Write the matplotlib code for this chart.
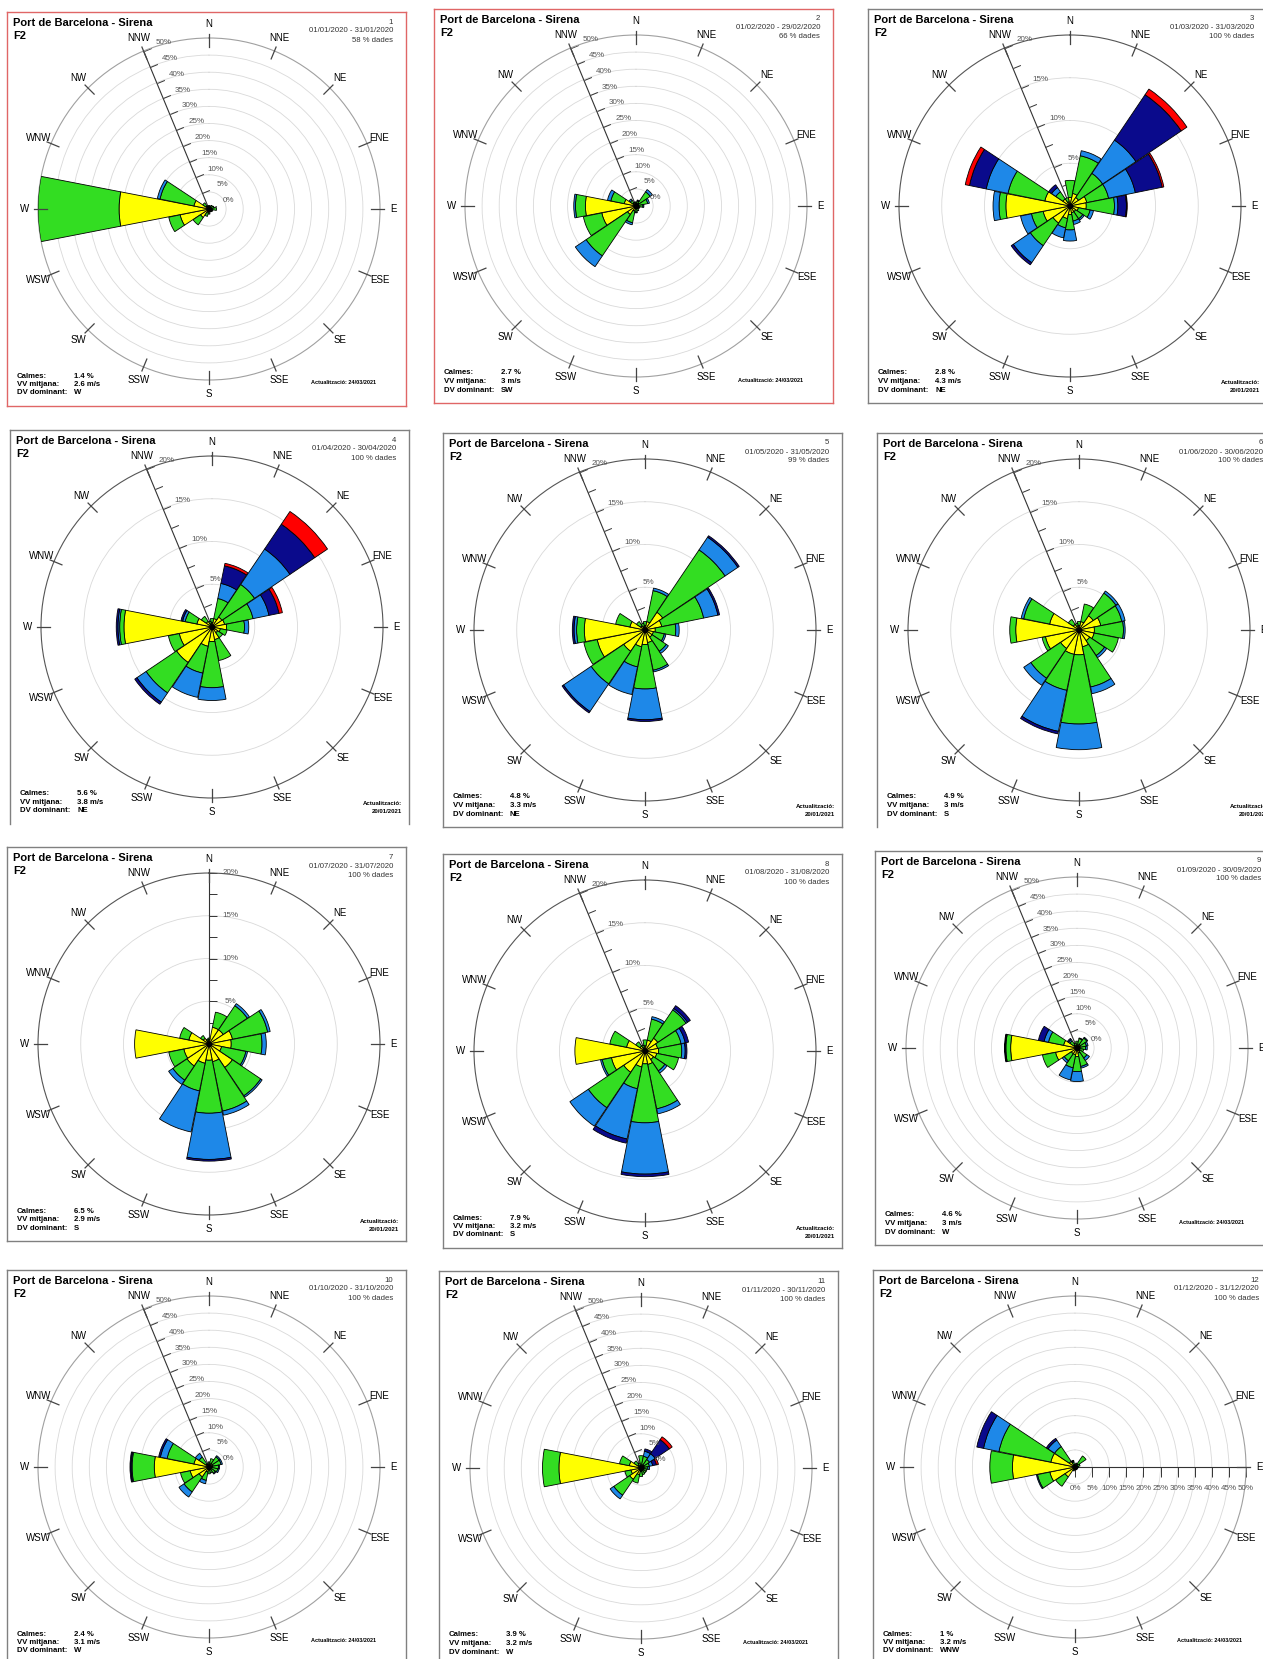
import numpy as np
import matplotlib.pyplot as plt
from matplotlib.markers import MarkerStyle
from matplotlib.path import Path
from matplotlib.transforms import Affine2D

plt.rcParams['font.family'] = ['Liberation Sans', 'DejaVu Sans']

W_PX, H_PX = 1263, 1659
PW, PH = 399, 394          # panel box in pixels
CX, CY, R = 202, 197, 171  # rose centre / radius inside a panel

directions = ["N", "NNE", "NE", "ENE", "E", "ESE", "SE", "SSE",
              "S", "SSW", "SW", "WSW", "W", "WNW", "NW", "NNW"]
class_colors = ["#ffff00", "#33dd22", "#1e88e8", "#0a0a8c", "#ff0000"]

# frequency (%) of each speed class per direction (N .. NNW), innermost class first
jan = [
    [0.5, 0.5, 0.6, 0.6, 0.8, 0.5, 0.4, 0.4, 0.7, 1.0, 3.0, 8.6, 26.3, 4.5, 1.0, 0.5],
    [0.5, 0.5, 0.7, 0.9, 1.4, 0.7, 0.6, 0.5, 0.8, 1.2, 2.6, 3.4, 23.7, 10.1, 1.2, 0.5],
    [0, 0, 0, 0, 0, 0, 0, 0, 0, 0, 0, 0, 0, 0.8, 0, 0],
]
feb = [
    [0.5, 0.6, 1.0, 0.8, 0.5, 0.4, 0.4, 0.5, 0.6, 1.5, 3.0, 10.2, 14.8, 3.5, 1.0, 0.5],
    [0.7, 0.9, 4.0, 2.7, 1.5, 0.8, 0.6, 1.0, 1.2, 3.5, 14.6, 5.5, 2.9, 4.0, 1.0, 0.7],
    [0, 0.3, 0.8, 0.5, 0.3, 0, 0, 0, 0.2, 0.6, 3.8, 0, 0.5, 1.0, 0.5, 0],
]
mar = [
    [1.0, 1.5, 1.2, 2.0, 1.9, 1.0, 0.8, 0.8, 1.0, 1.5, 2.4, 3.2, 7.5, 3.0, 1.0, 0.5],
    [2.0, 4.5, 3.4, 2.6, 3.3, 1.4, 1.0, 1.0, 1.8, 1.1, 3.2, 1.4, 0.8, 4.4, 1.0, 0.5],
    [0, 0.6, 4.7, 3.2, 0.4, 0.4, 0.2, 0.4, 1.3, 1.2, 2.4, 1.3, 0.7, 2.6, 0.6, 0],
    [0, 0, 6.4, 3.2, 1.0, 0, 0, 0, 0, 0, 0.3, 0, 0, 2.0, 0.4, 0],
    [0, 0, 0.8, 0.2, 0.1, 0, 0, 0, 0, 0, 0, 0, 0, 0.5, 0, 0],
]
apr = [
    [0.5, 1.0, 1.4, 1.5, 1.7, 1.0, 0.8, 1.5, 1.7, 2.3, 5.0, 3.9, 10.3, 1.8, 0.8, 0.4],
    [0.5, 2.4, 4.6, 3.4, 2.1, 0.8, 0.7, 2.5, 5.4, 3.2, 4.3, 1.3, 0.5, 1.4, 0.7, 0.3],
    [0, 1.8, 5.0, 1.9, 0.5, 0, 0, 0, 1.5, 2.9, 1.3, 0, 0.2, 0.3, 0, 0],
    [0, 2.1, 3.5, 1.2, 0, 0, 0, 0, 0, 0, 0.3, 0, 0.2, 0.2, 0, 0],
    [0, 0.3, 1.8, 0.4, 0, 0, 0, 0, 0, 0, 0, 0, 0, 0, 0, 0],
]
may = [
    [0.5, 1.0, 2.5, 2.0, 1.2, 1.0, 1.0, 1.5, 1.7, 2.0, 3.0, 5.7, 7.1, 1.8, 0.6, 0.4],
    [0.5, 3.7, 8.8, 5.0, 2.4, 1.3, 2.0, 3.3, 5.2, 2.4, 4.6, 1.6, 0.9, 1.7, 0.6, 0.4],
    [0, 0.3, 1.8, 1.7, 0.4, 0.2, 0.3, 0.2, 3.6, 3.3, 3.9, 0, 0.3, 0, 0, 0],
    [0, 0, 0.2, 0.2, 0, 0, 0, 0, 0.2, 0, 0.2, 0, 0.2, 0, 0, 0],
]
jun = [
    [0.5, 1.0, 2.0, 2.6, 1.8, 1.8, 1.5, 2.0, 2.9, 2.9, 2.6, 4.0, 7.4, 3.5, 0.8, 0.5],
    [0.5, 2.1, 3.2, 2.5, 3.4, 2.9, 2.1, 4.8, 8.1, 4.3, 4.2, 0.4, 0.7, 3.1, 0.7, 0.3],
    [0, 0, 0.3, 0.4, 0.2, 0, 0.3, 0.8, 3.0, 4.9, 1.0, 0, 0, 0.3, 0, 0],
    [0, 0, 0, 0, 0, 0, 0, 0, 0, 0.3, 0, 0, 0, 0, 0, 0],
]
jul = [
    [0.5, 2.0, 2.0, 2.8, 2.6, 1.5, 3.3, 2.1, 1.9, 2.3, 3.1, 3.0, 8.7, 2.4, 0.8, 0.4],
    [0.2, 1.8, 3.4, 4.2, 3.6, 2.9, 4.0, 5.9, 6.2, 3.3, 2.0, 1.8, 0, 1.1, 0.4, 0.2],
    [0, 0, 0.3, 0.3, 0.5, 0.2, 0.2, 0.5, 5.4, 4.9, 0.6, 0, 0, 0, 0, 0],
    [0, 0, 0, 0, 0, 0, 0, 0, 0.2, 0, 0, 0, 0, 0, 0, 0],
]
aug = [
    [0.6, 1.3, 1.8, 1.5, 1.6, 1.4, 1.2, 1.6, 1.5, 1.9, 3.0, 4.0, 8.2, 2.2, 0.7, 0.4],
    [0.7, 2.5, 4.0, 2.8, 2.7, 2.6, 1.6, 5.3, 6.9, 2.6, 5.0, 1.1, 0, 2.0, 0.6, 0.3],
    [0, 0.3, 0.2, 0.5, 0.4, 0, 0.3, 0.6, 6.0, 6.0, 2.6, 0.2, 0, 0, 0, 0],
    [0, 0, 0.4, 0.4, 0.2, 0, 0, 0, 0.3, 0.5, 0, 0, 0, 0, 0, 0],
]
sep = [
    [0.8, 1.0, 1.2, 1.0, 0.8, 0.7, 1.0, 1.5, 2.5, 2.0, 2.0, 6.4, 19.4, 4.0, 1.0, 0.6],
    [1.2, 1.8, 2.3, 1.8, 1.7, 1.3, 2.5, 4.0, 4.4, 3.9, 2.5, 3.9, 1.4, 4.5, 1.5, 0.9],
    [0, 0.2, 0.3, 0.5, 0.5, 0, 0.9, 0.5, 2.9, 3.6, 0.7, 0, 0.2, 1.3, 0.5, 0],
    [0, 0, 0, 0, 0, 0, 0, 0, 0, 0, 0, 0, 0.2, 1.7, 0.4, 0],
]
oct_ = [
    [0.6, 1.0, 1.2, 1.2, 1.0, 0.8, 0.7, 0.6, 0.8, 1.5, 3.5, 5.6, 16.0, 4.5, 1.0, 0.5],
    [0.9, 1.5, 2.4, 2.4, 1.8, 1.8, 1.5, 1.2, 1.2, 2.5, 5.3, 2.9, 6.5, 8.0, 2.5, 0.5],
    [0, 0, 0.4, 0.4, 0.3, 0.4, 0.3, 0, 0, 1.0, 1.8, 0, 0.3, 2.0, 1.3, 0],
    [0, 0, 0, 0, 0, 0, 0, 0, 0, 0, 0, 0, 0.3, 0.5, 0, 0],
]
nov = [
    [0.8, 1.0, 1.0, 1.0, 0.8, 0.6, 0.6, 0.6, 1.0, 2.0, 4.0, 3.0, 24.0, 3.5, 1.0, 0.6],
    [2.8, 2.5, 2.0, 1.5, 1.2, 1.2, 1.2, 1.4, 1.5, 2.5, 5.6, 1.8, 4.8, 2.9, 1.5, 0.9],
    [0, 1.5, 2.0, 1.0, 0.5, 0, 0, 0, 0, 0, 1.3, 0, 0, 0, 0, 0],
    [0, 0.7, 5.0, 1.1, 0, 0, 0, 0, 0, 0, 0, 0, 0, 0, 0, 0],
    [0, 0, 1.0, 0.6, 0, 0, 0, 0, 0, 0, 0, 0, 0, 0, 0, 0],
]
dec = [
    [0.4, 0.5, 1.0, 0.5, 0.4, 0.3, 0.3, 0.3, 0.4, 0.5, 3.5, 7.5, 18.3, 7.2, 2.0, 0.6],
    [0.4, 0.7, 2.9, 1.0, 0.6, 0.3, 0.3, 0.3, 0.4, 0.7, 3.3, 3.7, 6.6, 15.5, 5.2, 0.9],
    [0, 0, 0, 0, 0, 0, 0, 0, 0, 0, 0, 0.3, 0, 4.6, 2.3, 0.3],
    [0, 0, 0, 0, 0, 0, 0, 0, 0, 0, 0, 0, 0, 2.0, 0.6, 0.2],
]
months = [jan, feb, mar, apr, may, jun, jul, aug, sep, oct_, nov, dec]

periods = ["01/01/2020 - 31/01/2020", "01/02/2020 - 29/02/2020", "01/03/2020 - 31/03/2020",
           "01/04/2020 - 30/04/2020", "01/05/2020 - 31/05/2020", "01/06/2020 - 30/06/2020",
           "01/07/2020 - 31/07/2020", "01/08/2020 - 31/08/2020", "01/09/2020 - 30/09/2020",
           "01/10/2020 - 31/10/2020", "01/11/2020 - 30/11/2020", "01/12/2020 - 31/12/2020"]
coverage = [58, 66, 100, 100, 99, 100, 100, 100, 100, 100, 100, 100]
calmes = ["1.4 %", "2.7 %", "2.8 %", "5.6 %", "4.8 %", "4.9 %",
          "6.5 %", "7.9 %", "4.6 %", "2.4 %", "3.9 %", "1 %"]
vv_mitjana = ["2.6 m/s", "3 m/s", "4.3 m/s", "3.8 m/s", "3.3 m/s", "3 m/s",
              "2.9 m/s", "3.2 m/s", "3 m/s", "3.1 m/s", "3.2 m/s", "3.2 m/s"]
dv_dominant = ["W", "SW", "NE", "NE", "NE", "S", "S", "S", "W", "W", "W", "WNW"]
updated = ["24/03/2021"] * 2 + ["20/01/2021"] * 6 + ["24/03/2021"] * 4
rmax_pct = [50, 50, 20, 20, 20, 20, 20, 20, 50, 50, 50, 50]
scale_axis = ["NNW"] * 6 + ["N"] + ["NNW"] * 4 + ["E"]

panel_origins = [(7, 12), (434, 9), (868, 9), (10, 430), (443, 433), (877, 433),
                 (7, 847), (443, 854), (875, 851), (7, 1270), (439, 1271), (873, 1270)]

fig = plt.figure(figsize=(W_PX / 100, H_PX / 100), dpi=100)
theta = np.deg2rad(np.arange(16) * 22.5)
tick_path = Path([[0, 0], [1, 0]])


def draw_panel(i):
    px, py = panel_origins[i]
    frame = fig.add_axes([px / W_PX, 1 - (py + PH) / H_PX, PW / W_PX, PH / H_PX])
    frame.set_xlim(0, PW)
    frame.set_ylim(PH, 0)
    frame.set_xticks([])
    frame.set_yticks([])
    border = "#e06666" if i < 2 else "#808080"
    for side, sp in frame.spines.items():
        sp.set_color(border)
        sp.set_linewidth(1.0)
    if i in (3, 5):
        frame.spines["bottom"].set_visible(False)

    frame.text(6, 11, "Port de Barcelona - Sirena", fontsize=8, fontweight="bold", va="center")
    frame.text(6, 24, "F2", fontsize=8, fontweight="bold", va="center")
    frame.text(386, 10, str(i + 1), fontsize=5.6, color="#333333", ha="right", va="center")
    frame.text(386, 19, periods[i], fontsize=5.6, color="#333333", ha="right", va="center")
    frame.text(386, 28, f"{coverage[i]} % dades", fontsize=5.6, color="#333333", ha="right", va="center")
    for k, (lab, val) in enumerate([("Calmes:", calmes[i]), ("VV mitjana:", vv_mitjana[i]),
                                    ("DV dominant:", dv_dominant[i])]):
        frame.text(10, 364 + k * 8.5, lab, fontsize=5.6, fontweight="bold", va="center")
        frame.text(67, 364 + k * 8.5, val, fontsize=5.6, fontweight="bold", va="center")
    if updated[i] == "24/03/2021":
        frame.text(304, 371, "Actualització: " + updated[i], fontsize=4, fontweight="bold", va="center")
    else:
        frame.text(392, 374, "Actualització:", fontsize=4.3, fontweight="bold", ha="right", va="center")
        frame.text(392, 382, updated[i], fontsize=4.3, fontweight="bold", ha="right", va="center")

    cx, cy = px + CX, py + CY
    ax = fig.add_axes([(cx - R) / W_PX, 1 - (cy + R) / H_PX, 2 * R / W_PX, 2 * R / H_PX],
                      projection="polar")
    ax.set_theta_zero_location("N")
    ax.set_theta_direction(-1)
    rmax = rmax_pct[i]
    ax.set_ylim(0, rmax)
    ax.set_xticks([])
    ax.set_yticks(np.arange(5, rmax, 5))
    ax.set_yticklabels([])
    ax.tick_params(length=0)
    ax.yaxis.grid(True, color="#d9d9d9", linewidth=0.6)
    ax.xaxis.grid(False)
    ax.set_axisbelow(True)
    ax.set_facecolor("white")
    ax.spines["polar"].set_edgecolor("#a0a0a0" if rmax == 50 else "#555555")
    ax.spines["polar"].set_linewidth(0.8)

    # stacked speed-class wedges
    base = np.zeros(16)
    for vals, col in zip(months[i], class_colors):
        vals = np.asarray(vals, dtype=float)
        m = vals > 0
        ax.bar(theta[m], vals[m], width=np.deg2rad(22), bottom=base[m], color=col,
               edgecolor="black", linewidth=0.6, zorder=3)
        base += vals
    ax.plot(0, 0, "o", color="black", markersize=3, zorder=5)

    # compass ticks and labels
    for th, name in zip(theta, directions):
        ax.plot([th, th], [0.95 * rmax, 1.025 * rmax], color="#444444", linewidth=0.9,
                clip_on=False, zorder=4)
        ax.text(th, 1.08 * rmax, name, fontsize=7, ha="center", va="center")

    # radial scale along one direction
    phi = directions.index(scale_axis[i]) * 22.5
    th_a = np.deg2rad(phi)
    ax.plot([th_a, th_a], [0, rmax], color="#333333", linewidth=0.8, clip_on=False, zorder=2.5)
    if rmax == 50:
        tick_vals = np.arange(0, 51, 5)
        label_vals = tick_vals
    else:
        tick_vals = np.arange(2.5, 20.1, 2.5)
        label_vals = np.arange(5, 21, 5)
    tick_len = 14 if scale_axis[i] == "E" else 11.5
    marker = MarkerStyle(tick_path, transform=Affine2D().rotate_deg(-phi))
    ax.plot(np.full(len(tick_vals), th_a), tick_vals, linestyle="none", marker=marker,
            markersize=tick_len, markeredgecolor="#333333", markeredgewidth=0.7,
            clip_on=False, zorder=2.5)
    off = 15.5
    dx, dy = off * np.cos(np.deg2rad(-phi)), off * np.sin(np.deg2rad(-phi))
    for v in label_vals:
        ax.annotate(f"{v:g}%", xy=(th_a, v), xytext=(dx, dy), textcoords="offset points",
                    fontsize=5.8, color="#555555", ha="center", va="center",
                    annotation_clip=False)


for i in range(12):
    draw_panel(i)

fig.savefig("out.png", dpi=100, facecolor="white")
